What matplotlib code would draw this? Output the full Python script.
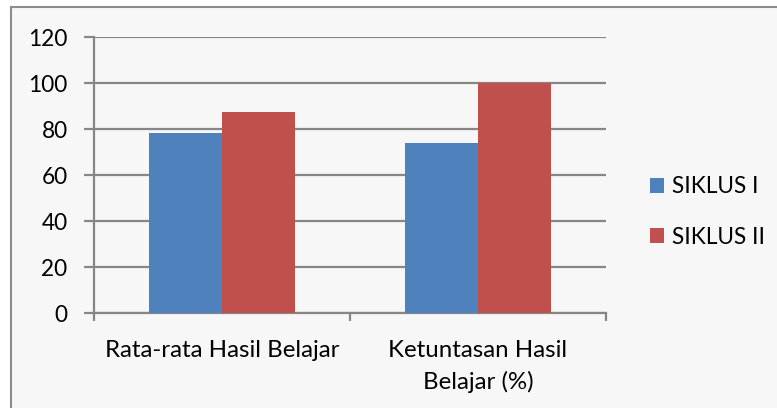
import matplotlib
matplotlib.use("Agg")
import matplotlib.pyplot as plt
from matplotlib.patches import Rectangle, Patch
import numpy as np

categories = ["Rata-rata Hasil Belajar", "Ketuntasan Hasil\nBelajar (%)"]
series_names = ["SIKLUS I", "SIKLUS II"]
siklus1 = [78.3, 74.0]
siklus2 = [87.5, 100.0]
colors = ["#4F81BD", "#C0504D"]
yticks = [0, 20, 40, 60, 80, 100, 120]

plt.rcParams['font.family'] = ['Lato', 'DejaVu Sans']
W, H = 777, 408
fig = plt.figure(figsize=(W / 100, H / 100), dpi=100, facecolor="white")

# chart frame
frame = Rectangle((11 / W, -0.1), 1.2, 1 - 7 / H + 0.1, transform=fig.transFigure,
                  facecolor="#f7f7f7", edgecolor="#8c8c8c", linewidth=1.5, zorder=-5)
fig.patches.append(frame)

left, right, top, bottom = 94, 606, 37, 313.3
ax = fig.add_axes([left / W, 1 - bottom / H, (right - left) / W, (bottom - top) / H])
ax.set_facecolor("none")

x = np.arange(1, len(categories) + 1)
bw = 1 / 3.5
ax.bar(x - bw / 2, siklus1, width=bw, color=colors[0], zorder=3)
ax.bar(x + bw / 2, siklus2, width=bw, color=colors[1], zorder=3)

ax.set_xlim(0.5, len(categories) + 0.5)
ax.set_ylim(0, 120)
ax.set_yticks(yticks)
ax.set_yticklabels([str(v) for v in yticks], fontsize=16.3)
ax.yaxis.grid(True, color="#868686", linewidth=1.6, zorder=1)
ax.set_axisbelow(True)

ax.set_xticks(np.arange(0.5, len(categories) + 1, 1.0))
ax.set_xticklabels([])
ax.set_xticks(x, minor=True)
ax.set_xticklabels(categories, minor=True, fontsize=17.3, linespacing=1.55)
ax.tick_params(axis='x', which='minor', length=0, pad=19)
ax.tick_params(axis='x', which='major', length=6, width=1.6, color="#868686")
ax.tick_params(axis='y', length=7, width=1.6, color="#868686", pad=12)

for s in ["top", "right"]:
    ax.spines[s].set_visible(False)
for s in ["left", "bottom"]:
    ax.spines[s].set_color("#868686")
    ax.spines[s].set_linewidth(1.6)

handles = [Patch(facecolor=c) for c in colors]
fig.legend(handles, series_names, loc="center left", bbox_to_anchor=(630 / W, 1 - 212 / H),
           frameon=False, fontsize=16.3, handlelength=0.62, handleheight=0.62,
           handletextpad=0.35, labelspacing=1.3)

fig.savefig("out.png", dpi=100, facecolor="white")
